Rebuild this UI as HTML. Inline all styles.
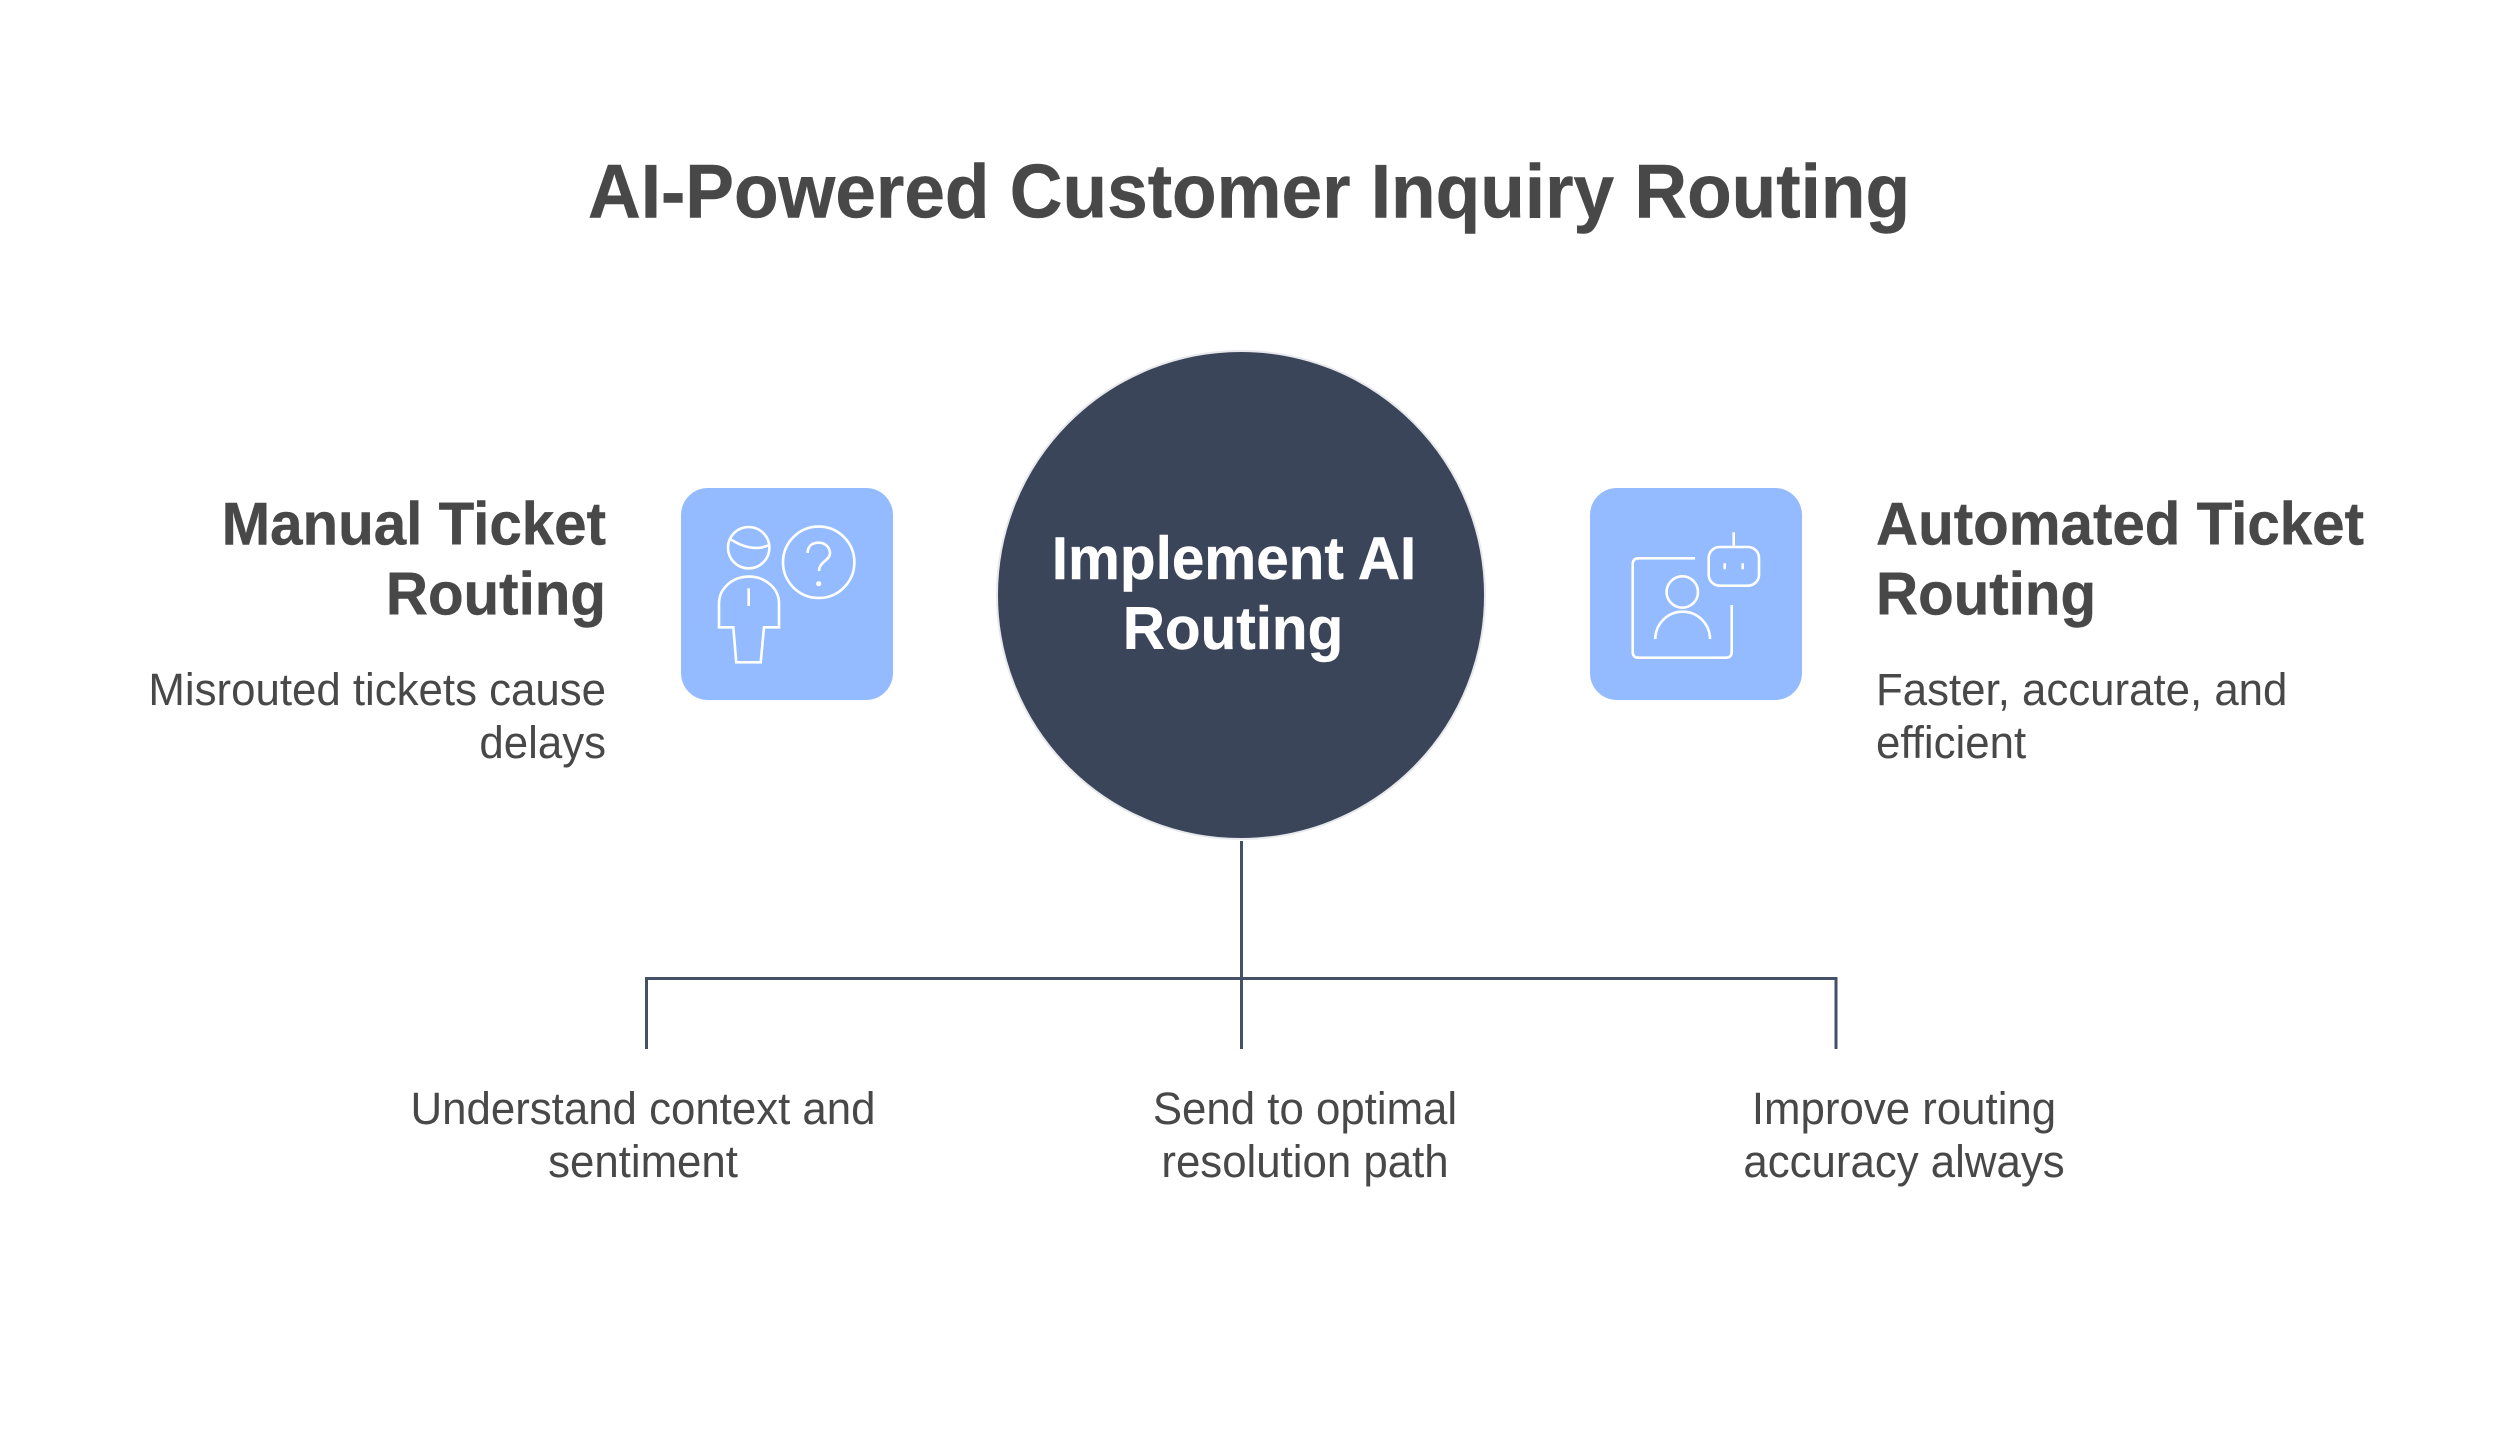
<!DOCTYPE html>
<html lang="en"><head><meta charset="utf-8"><title>AI-Powered Customer Inquiry Routing</title>
<style>
html,body{margin:0;padding:0;background:#fff}
svg{display:block}
text{font-family:"Liberation Sans",sans-serif;fill:#484848}
.t{font-size:73px;font-weight:700;stroke:#484848;stroke-width:.5px}
.h{font-size:58.3px;font-weight:700;stroke:#484848;stroke-width:.4px}
.c{font-size:58.4px;font-weight:700;fill:#fff;stroke:#fff;stroke-width:.4px}
.p{font-size:43.8px}
</style></head><body>
<svg width="2500" height="1434" viewBox="0 0 2500 1434" xmlns="http://www.w3.org/2000/svg">
<rect width="2500" height="1434" fill="#fff"/>
<text transform="matrix(1 0 0 1.04 1249 217.5)" text-anchor="middle" class="t">AI-Powered Customer Inquiry Routing</text>
<circle cx="1241" cy="595" r="244" fill="#3b4559" stroke="#e6e8ec" stroke-width="2"/>
<text transform="matrix(1 0 0 1.03 1234 579)" text-anchor="middle" class="c">Implement AI</text>
<text transform="matrix(1 0 0 1.03 1233 649)" text-anchor="middle" class="c">Routing</text>
<g fill="none" stroke="#445066" stroke-width="3">
<path d="M1241.5 841V1049M646.5 1049V978.5H1836V1049"/>
</g>
<rect x="681" y="488" width="212" height="212" rx="27" fill="#94bbff"/>
<rect x="1590" y="488" width="212" height="212" rx="27" fill="#94bbff"/>
<g fill="none" stroke="#fff" stroke-width="2.6">
<circle cx="748.7" cy="547.7" r="20.7"/>
<path d="M730.7 539.3Q752 553 769.3 545"/>
<circle cx="818.7" cy="562.3" r="35.7"/>
<path d="M807.7 553C807.7 546 812 542.7 818.7 542.7C825 542.7 830 547 830 553.5C830 560 819 562 819 571"/>
<path d="M719 627.3V603.3A30 26.7 0 0 1 779 603.3V627.3H764L760.7 662.3H736.3L733.3 627.3Z"/>
<path d="M748.7 588.3V606"/>
<path d="M1695 558.3H1638.7Q1632.7 558.3 1632.7 564.3V651.7Q1632.7 657.7 1638.7 657.7H1725.7Q1731.7 657.7 1731.7 651.7V605"/>
<circle cx="1682.3" cy="592" r="15.7"/>
<path d="M1655.3 639A27.3 27.3 0 0 1 1710 639"/>
<rect x="1708.7" y="547" width="50.3" height="38.7" rx="11"/>
<path d="M1733.7 532.3V547M1724.7 563.3V569.3M1742.7 563.3V569.3"/>
</g>
<circle cx="818.7" cy="583.7" r="2.6" fill="#fff"/>
<text transform="matrix(1 0 0 1.03 606 544.5)" text-anchor="end" class="h">Manual Ticket</text>
<text transform="matrix(1 0 0 1.03 606 614.5)" text-anchor="end" class="h">Routing</text>
<text transform="matrix(1 0 0 1.03 606 705)" text-anchor="end" class="p">Misrouted tickets cause</text>
<text transform="matrix(1 0 0 1.03 606 758)" text-anchor="end" class="p">delays</text>
<text transform="matrix(1 0 0 1.03 1876 544.5)" class="h">Automated Ticket</text>
<text transform="matrix(1 0 0 1.03 1876 614.5)" class="h">Routing</text>
<text transform="matrix(1 0 0 1.03 1876 705)" class="p">Faster, accurate, and</text>
<text transform="matrix(1 0 0 1.03 1876 758)" class="p">efficient</text>
<text transform="matrix(1 0 0 1.03 643 1124)" text-anchor="middle" class="p">Understand context and</text>
<text transform="matrix(1 0 0 1.03 643 1177)" text-anchor="middle" class="p">sentiment</text>
<text transform="matrix(1 0 0 1.03 1305 1124)" text-anchor="middle" class="p">Send to optimal</text>
<text transform="matrix(1 0 0 1.03 1305 1177)" text-anchor="middle" class="p">resolution path</text>
<text transform="matrix(1 0 0 1.03 1904 1124)" text-anchor="middle" class="p">Improve routing</text>
<text transform="matrix(1 0 0 1.03 1904 1177)" text-anchor="middle" class="p">accuracy always</text>
</svg>
</body></html>
